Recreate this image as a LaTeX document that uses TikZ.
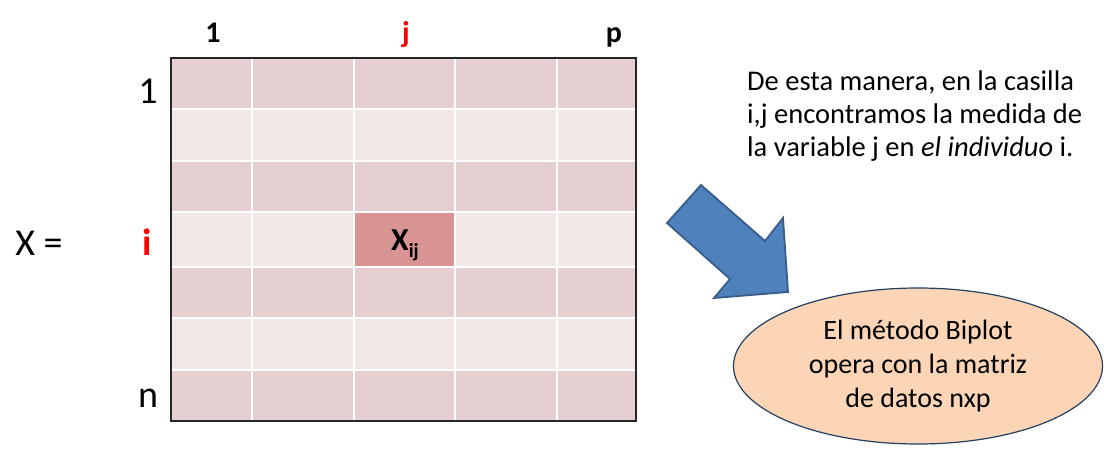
\documentclass[tikz,border=0pt]{standalone}
\usepackage{fontspec}
\setmainfont{Carlito}
\usetikzlibrary{shapes.geometric}
\definecolor{bandoscuro}{HTML}{E6CFD0}
\definecolor{bandclaro}{HTML}{F2E8E8}
\definecolor{celdaij}{HTML}{D99594}
\definecolor{flechaazul}{HTML}{4F81BD}
\definecolor{flechaborde}{HTML}{385D8A}
\definecolor{elipsefondo}{HTML}{FBD5B5}
\definecolor{elipseborde}{HTML}{243F60}
\definecolor{rojoindice}{HTML}{FF0000}

\begin{document}
\begin{tikzpicture}[x=1pt, y=-1pt,
                    every node/.style={inner sep=0pt, black},
                    indcol/.style={anchor=base, font=\fontsize{30}{30}\selectfont\bfseries},
                    indfila/.style={anchor=base, font=\fontsize{38}{38}\selectfont}]

  \useasboundingbox (0,0) rectangle (1104,450);

  %% franjas de las filas de la matriz
  \fill[bandoscuro] (171,58)  rectangle (636,109);
  \fill[bandclaro]  (171,109) rectangle (636,161);
  \fill[bandoscuro] (171,161) rectangle (636,212);
  \fill[bandclaro]  (171,212) rectangle (636,267);
  \fill[bandoscuro] (171,267) rectangle (636,318);
  \fill[bandclaro]  (171,318) rectangle (636,370);
  \fill[bandoscuro] (171,370) rectangle (636,421);

  %% la casilla i,j
  \fill[celdaij] (354,212) rectangle (455,267);

  %% lineas blancas entre casillas
  \foreach \cx in {252,354,455,557}
    \draw[white, line width=1.5pt] (\cx,58) -- (\cx,421);
  \foreach \cy in {109,161,212,267,318,370}
    \draw[white, line width=1.5pt] (171,\cy) -- (636,\cy);

  %% borde de la matriz
  \draw[black!85, line width=1.6pt] (171,58) rectangle (636,421);

  %% indices de columna
  \node[indcol] (col1) at (213,42) {1};
  \node[indcol, rojoindice] (colj) at (406,42) {j};
  \node[indcol] (colp) at (614,42) {p};

  %% indices de fila
  \node[indfila] (fila1) at (148,103) {1};
  \node[indfila, rojoindice, font=\fontsize{38}{38}\selectfont\bfseries] (filai) at (147,255) {i};
  \node[indfila] (filan) at (148,407) {n};

  %% nombre de la matriz
  \node[indfila] (nombre) at (39,255) {X =};

  %% elemento x_ij
  \node[anchor=base, font=\fontsize{32}{32}\selectfont\bfseries] (xij) at (405,250)
    {X\raisebox{-7pt}{\fontsize{20}{20}\selectfont ij}};

  %% explicacion
  \node[anchor=west, align=left, font=\fontsize{28.5}{33}\selectfont] (nota) at (747,116)
    {De esta manera, en la casilla\\
     i,j encontramos la medida de\\
     la variable j en \textit{el individuo} i.};

  %% flecha de bloque
  \draw[flechaborde, fill=flechaazul, line width=1.8pt, line join=miter]
    (667,223) -- (701,185) -- (765,241) -- (783,218)
    -- (788,292) -- (714,298) -- (730,279) -- cycle;

  %% elipse con el metodo
  \node[ellipse, draw=elipseborde, fill=elipsefondo, line width=1.2pt,
        minimum width=369, minimum height=156, align=center,
        font=\fontsize{28}{34}\selectfont] (metodo) at (918,366)
    {\rule{0pt}{6pt}El método Biplot\\
     opera con la matriz\\
     de datos nxp};

\end{tikzpicture}
\end{document}
